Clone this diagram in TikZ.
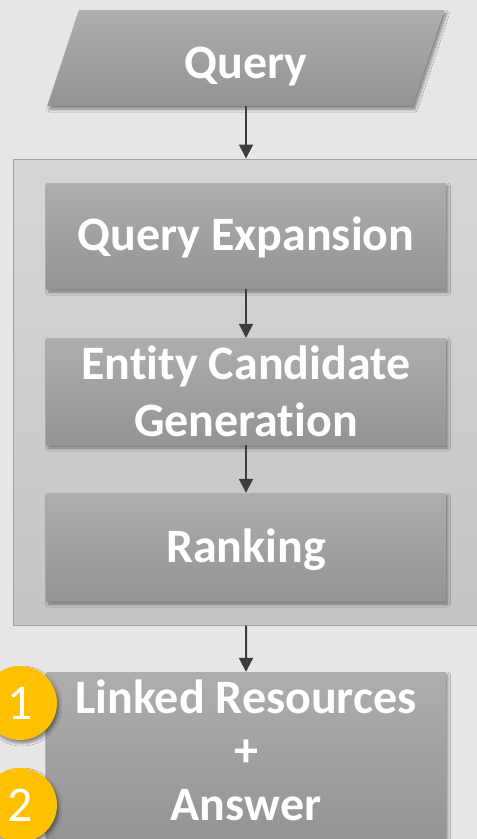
\documentclass[tikz,border=0pt]{standalone}
\usepackage{fontspec}
\setmainfont{Carlito}[Ligatures=NoCommon]
\usetikzlibrary{arrows.meta,shapes.geometric,shadows.blur}

\definecolor{pagebg}{HTML}{E6E6E6}
\definecolor{boxtop}{HTML}{AEAEAE}
\definecolor{boxbot}{HTML}{939393}
\definecolor{stagetop}{HTML}{D6D6D6}
\definecolor{stagebot}{HTML}{C4C4C4}
\definecolor{stageline}{HTML}{A0A0A0}
\definecolor{arrowcol}{HTML}{3C3C3C}
\definecolor{badgecol}{HTML}{FFC000}

\begin{document}
\begin{tikzpicture}[x=1pt,y=-1pt,
  softshadow/.style={blur shadow={shadow xshift=2pt, shadow yshift=-3pt,
      shadow blur steps=6, shadow blur radius=3pt, shadow opacity=45}},
  procbox/.style={rectangle, minimum width=399pt, inner sep=0pt,
      top color=boxtop, bottom color=boxbot, text=white, align=center,
      font=\fontsize{48}{57}\selectfont\bfseries, softshadow},
  inputbox/.style={trapezium, trapezium left angle=51.6, trapezium right angle=128.4,
      trapezium stretches body, minimum width=397pt, minimum height=96pt, inner sep=0pt,
      top color=boxtop, bottom color=boxbot, text=white,
      font=\fontsize{48}{57}\selectfont\bfseries, softshadow},
  stagebox/.style={rectangle, draw=stageline, line width=1pt,
      top color=stagetop, bottom color=stagebot},
  badge/.style={circle, minimum size=74pt, inner sep=0pt, fill=badgecol,
      text=white, font=\fontsize{50}{50}\selectfont, softshadow},
  flow/.style={draw=arrowcol, line width=2pt,
      -{Triangle[width=14pt,length=14pt]}}
]
\useasboundingbox (0,0) rectangle (477,839);
\fill[pagebg] (0,0) rectangle (477,839);

% input
\node[inputbox, text height=40pt, text depth=0pt] (query) at (246,58) {Query};

% processing stage (runs past the right edge)
\node[stagebox, minimum width=472pt, minimum height=466pt] (stage) at (249,392) {};
\node[procbox, minimum height=106pt, text height=36pt, text depth=8pt]
  (qe) at (246,236) {Query Expansion};
\node[procbox, minimum height=107pt] (ecg) at (246,391.5) {Entity Candidate\\Generation};
\node[procbox, minimum height=108pt, text height=38pt, text depth=8pt]
  (rank) at (246,547) {Ranking};

% output
\node[procbox, minimum height=172pt, font=\fontsize{48}{53.5}\selectfont\bfseries,
      text height=124pt, text depth=0pt]
  (out) at (246,758) {Linked Resources\\+\\Answer};
\node[badge] (b1) at (20,703) {1};
\node[badge] (b2) at (20,805) {2};

% connectors
\draw[flow] (query.south) -- (query.south |- stage.north);
\draw[flow] (qe.south) -- (ecg.north);
\draw[flow] (ecg.south) -- (rank.north);
\draw[flow] (query.south |- stage.south) -- (out.north);
\end{tikzpicture}
\end{document}
